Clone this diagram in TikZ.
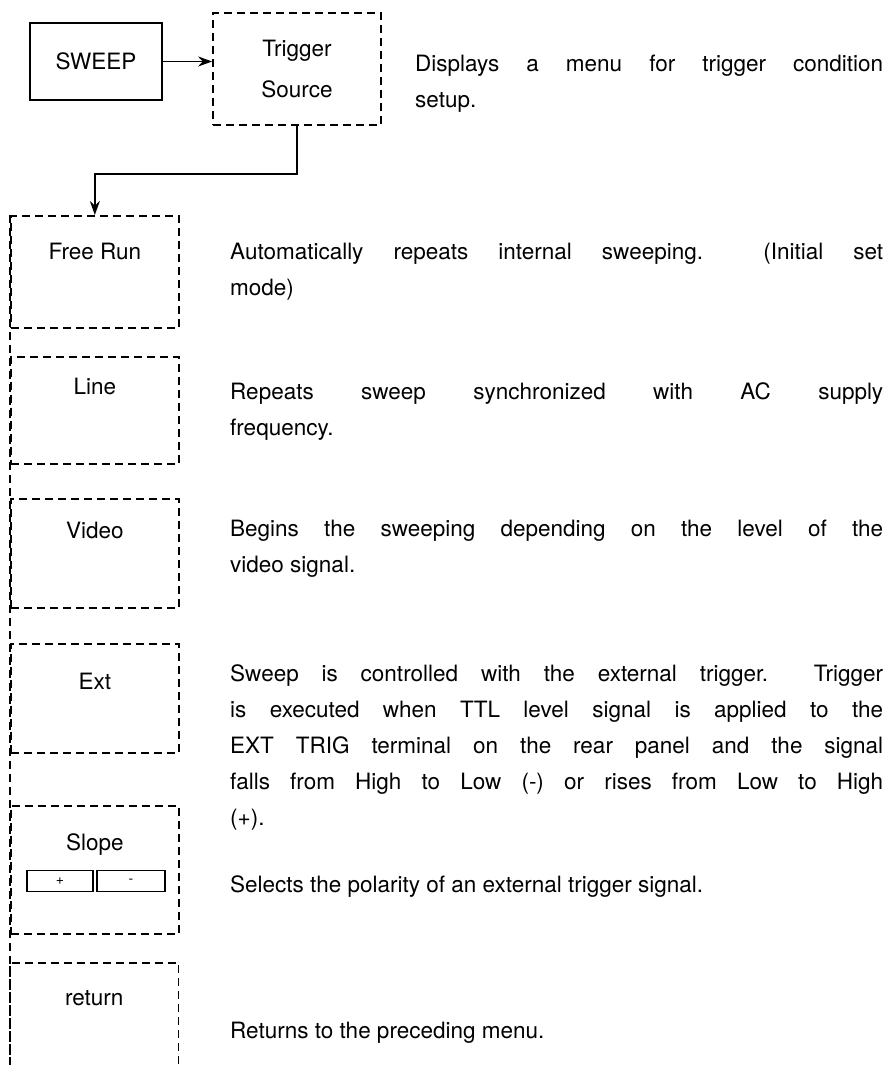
\documentclass[tikz,border=0pt]{standalone}
\usepackage{fontspec}
\setmainfont{TeX Gyre Heros}
\usetikzlibrary{arrows.meta,positioning}

\newcommand*{\menux}{10}
\newcommand*{\descx}{230}
\newcommand*{\pagebottom}{1065}

\begin{document}
\begin{tikzpicture}
[
	x=1pt,
	y=-1pt,
	key/.style={draw,line width=1.7pt,minimum width=132pt,minimum height=77pt,inner sep=0pt,font=\fontsize{22.5}{40}\selectfont},
	menubox/.style={draw,line width=1.7pt,dash pattern=on 8pt off 5pt,minimum width=168pt,inner sep=0pt},
	menulabel/.style={inner sep=0pt,font=\fontsize{22.5}{40}\selectfont},
	btn/.style={draw,line width=1.5pt,minimum height=21pt,inner sep=0pt,font=\fontsize{14}{16}\selectfont},
	desc/.style={anchor=north west,inner sep=0pt,text width=653pt,align=justify,font=\fontsize{22.5}{36.2}\selectfont},
	arr/.style={line width=1.6pt,-{Stealth[length=14pt,width=10pt]}},
	menuline/.style={line width=1.7pt,dash pattern=on 8pt off 5pt}
]

	\useasboundingbox (0,0) rectangle (893,\pagebottom);

	% top keys
	\node[key] at (96,61.5) (sweep) {SWEEP};
	\node[menubox,minimum height=112pt,align=center,font=\fontsize{22.5}{41}\selectfont] at (297,69) (trig) {Trigger\\Source};
	\node[desc,text width=468pt] at (415,55) (dtrig) {Displays a menu for trigger condition\linebreak setup.};

	\draw[arr] (sweep.east) -- (sweep.east -| trig.west);

	% menu column
	\node[menubox,anchor=north west,minimum height=112pt] at (\menux,215) (freerun) {};
	\node[menubox,anchor=north west,minimum height=107pt] at (\menux,356) (line) {};
	\node[menubox,anchor=north west,minimum height=109pt] at (\menux,498) (video) {};
	\node[menubox,anchor=north west,minimum height=109pt] at (\menux,643) (ext) {};
	\node[menubox,anchor=north west,minimum height=128pt] at (\menux,805) (slope) {};
	\node[minimum width=168pt,minimum height=102pt,inner sep=0pt,anchor=north west] at (\menux,963) (ret) {};
	\draw[menuline] (ret.south west) |- (ret.north east) -- (ret.south east);

	\coordinate (bottom) at (\menux,\pagebottom);
	\draw[menuline] (freerun.north west) -- (bottom);

	\node[menulabel,below=28pt of freerun.north] {Free Run};
	\node[menulabel,below=22pt of line.north] {Line};
	\node[menulabel,below=24pt of video.north] {Video};
	\node[menulabel,below=30pt of ext.north] {Ext};
	\node[menulabel,below=28pt of slope.north] {Slope};
	\node[menulabel,below=27pt of ret.north] {return};

	\node[btn,minimum width=66pt] at (60,881) (plus) {+};
	\node[btn,minimum width=68pt] at (131,881) (minus) {-};

	\draw[arr] (trig.south) -- ++(0,48) -| (freerun.north);

	% descriptions
	\node[desc] at (\descx,243) (dfree) {Automatically repeats internal sweeping.\ \ (Initial set\linebreak mode)};
	\node[desc] at (\descx,382) (dline) {Repeats sweep synchronized with AC supply\linebreak frequency.};
	\node[desc] at (\descx,520) (dvideo) {Begins the sweeping depending on the level of the\linebreak video signal.};
	\node[desc] at (\descx,664) (dext) {Sweep is controlled with the external trigger.\ \ Trigger\linebreak is executed when TTL level signal is applied to the\linebreak EXT TRIG terminal on the rear panel and the signal\linebreak falls from High to Low (-) or rises from Low to High\linebreak (+).};
	\node[desc] at (\descx,875) (dslope) {Selects the polarity of an external trigger signal.};
	\node[desc] at (\descx,1022) (dret) {Returns to the preceding menu.};

\end{tikzpicture}
\end{document}
